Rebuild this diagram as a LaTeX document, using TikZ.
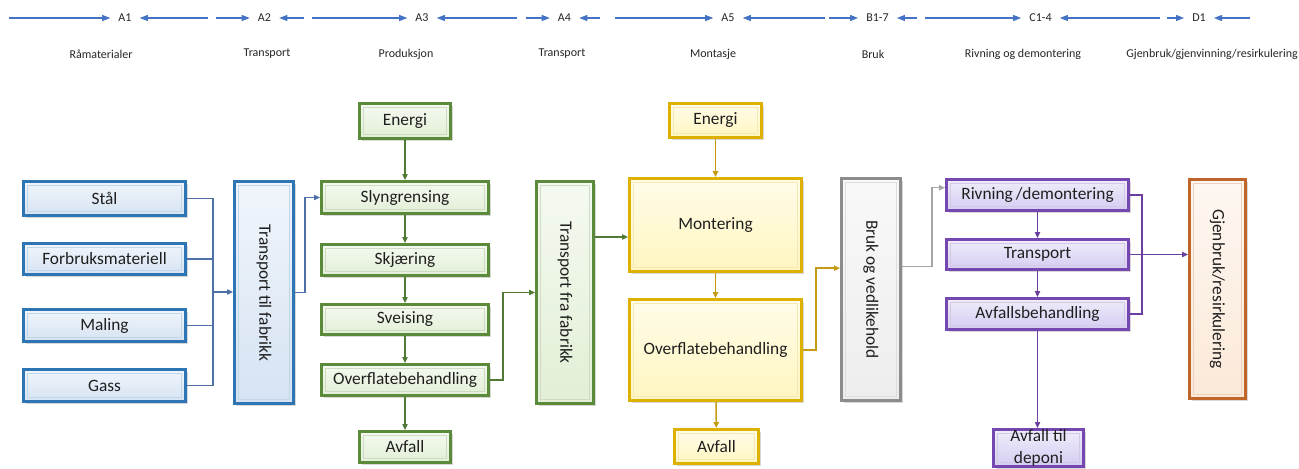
\documentclass[tikz,border=0pt]{standalone}
\usepackage{fontspec}
\setmainfont{Carlito}
\usepackage{graphicx}
\usetikzlibrary{arrows.meta,shadows}
\definecolor{blueB}{HTML}{2E75B6}\definecolor{blueF}{HTML}{D6E3F3}
\definecolor{greenB}{HTML}{5A8A3A}\definecolor{greenF}{HTML}{E2EFD6}
\definecolor{yelB}{HTML}{DDB100}\definecolor{yelF}{HTML}{FFF6C0}
\definecolor{grayB}{HTML}{8C8C8C}\definecolor{grayF}{HTML}{EDEDED}
\definecolor{purB}{HTML}{7448B0}\definecolor{purF}{HTML}{D4CCF2}
\definecolor{oraB}{HTML}{C0652A}\definecolor{oraF}{HTML}{FBE9D8}
\definecolor{blueL}{HTML}{4F6FA8}\definecolor{greenL}{HTML}{4E7A35}
\definecolor{yelL}{HTML}{C49B12}\definecolor{grayL}{HTML}{A6A6A6}
\definecolor{purL}{HTML}{6B3FA0}\definecolor{hdL}{HTML}{4472C4}
\tikzset{
  bx/.style 2 args={draw=#1, line width=2.2pt, inner sep=0pt, outer sep=1.1pt,
    top color=#2!35!white, bottom color=#2, text=black!88,
    font=\fontsize{13}{16}\selectfont, align=center,
    drop shadow={opacity=0.3,shadow xshift=2pt,shadow yshift=-2pt},
    path picture={\draw[#1!30!white, line width=1.1pt]
      ([xshift=3pt,yshift=-3pt]path picture bounding box.north west) rectangle
      ([xshift=-3pt,yshift=3pt]path picture bounding box.south east);}},
  con/.style={line width=0.9pt, draw=#1},
  arr/.style={con=#1, -{Triangle[length=4.5pt,width=4pt]}},
  hd/.style={inner xsep=6pt, inner ysep=1pt, font=\fontsize{9}{11}\selectfont, text=black!85},
  hl/.style={inner sep=0pt, font=\fontsize{9}{11}\selectfont, text=black!85},
  harr/.style={line width=0.8pt, draw=hdL, -{Triangle[length=6pt,width=4.5pt]}}
}
\newcommand\mybox[7]{\node[#6, minimum width={(#4-#2)*0.75pt-2.2pt}, minimum height={(#5-#3)*0.75pt-2.2pt}] (#1) at ({(#2+#4)/2},{(#3+#5)/2}) {#7};}
\begin{document}
\begin{tikzpicture}[x=0.75pt,y=-0.75pt]
\fill[white] (0,0) rectangle (1299,468);
\useasboundingbox (0,0) rectangle (1299,468);
% header
\node[hd] (A1) at (125,18) {A1};
\node[hd] (A2) at (264.5,18) {A2};
\node[hd] (A3) at (422,18) {A3};
\node[hd] (A4) at (564.5,18) {A4};
\node[hd] (A5) at (728,18) {A5};
\node[hd] (B17) at (877.5,18) {B1-7};
\node[hd] (C14) at (1040.5,18) {C1-4};
\node[hd] (D1) at (1199,18) {D1};
\coordinate (h1a) at (9,18);   \coordinate (h1b) at (208,18);
\coordinate (h2a) at (216,18); \coordinate (h2b) at (304,18);
\coordinate (h3a) at (312,18); \coordinate (h3b) at (517,18);
\coordinate (h4a) at (526,18); \coordinate (h4b) at (600,18);
\coordinate (h5a) at (615,18); \coordinate (h5b) at (825,18);
\coordinate (h6a) at (829,18); \coordinate (h6b) at (917,18);
\coordinate (h7a) at (925,18); \coordinate (h7b) at (1160,18);
\coordinate (h8a) at (1167,18); \coordinate (h8b) at (1250,18);
\draw[harr] (h1a) -- (A1); \draw[harr] (h1b) -- (A1);
\draw[harr] (h2a) -- (A2); \draw[harr] (h2b) -- (A2);
\draw[harr] (h3a) -- (A3); \draw[harr] (h3b) -- (A3);
\draw[harr] (h4a) -- (A4); \draw[harr] (h4b) -- (A4);
\draw[harr] (h5a) -- (A5); \draw[harr] (h5b) -- (A5);
\draw[harr] (h6a) -- (B17); \draw[harr] (h6b) -- (B17);
\draw[harr] (h7a) -- (C14); \draw[harr] (h7b) -- (C14);
\draw[harr] (h8a) -- (D1); \draw[harr] (h8b) -- (D1);
\node[hl] (L1) at (101,54) {Råmaterialer};
\node[hl] (L2) at (267,54) {Transport};
\node[hl] (L3) at (406,54) {Produksjon};
\node[hl] (L4) at (562,54) {Transport};
\node[hl] (L5) at (713,54) {Montasje};
\node[hl] (L6) at (873,54) {Bruk};
\node[hl] (L7) at (1023,54) {Rivning og demontering};
\node[hl] (L8) at (1212,54) {Gjenbruk/gjenvinning/resirkulering};
% blue
\mybox{stal}{22}{180}{187}{217}{bx={blueB}{blueF}}{Stål}
\mybox{forbruk}{22}{242}{187}{276}{bx={blueB}{blueF}}{Forbruksmateriell}
\mybox{maling}{22}{308}{187}{343}{bx={blueB}{blueF}}{Maling}
\mybox{gass}{22}{368}{187}{403}{bx={blueB}{blueF}}{Gass}
\mybox{ttf}{233}{180}{295}{405}{bx={blueB}{blueF}}{\rotatebox{-90}{Transport til fabrikk}}
% green
\mybox{energi1}{358}{102}{452}{140}{bx={greenB}{greenF}}{Energi}
\mybox{slyng}{320}{180}{490}{215}{bx={greenB}{greenF}}{Slyngrensing}
\mybox{skj}{320}{243}{490}{277}{bx={greenB}{greenF}}{Skjæring}
\mybox{sveis}{320}{303}{490}{336}{bx={greenB}{greenF}}{Sveising}
\mybox{overfl1}{320}{363}{490}{397}{bx={greenB}{greenF}}{Overflatebehandling}
\mybox{avfall1}{358}{430}{452}{464}{bx={greenB}{greenF}}{Avfall}
\mybox{tff}{535}{180}{595}{405}{bx={greenB}{greenF}}{\rotatebox{-90}{Transport fra fabrikk}}
% yellow
\mybox{energi2}{668}{102}{763}{139}{bx={yelB}{yelF}}{Energi}
\mybox{mont}{628}{177}{803}{273}{bx={yelB}{yelF}}{Montering}
\mybox{overfl2}{628}{298}{803}{402}{bx={yelB}{yelF}}{Overflatebehandling}
\mybox{avfall2}{673}{428}{760}{465}{bx={yelB}{yelF}}{Avfall}
% gray
\mybox{bruk}{840}{177}{902}{402}{bx={grayB}{grayF}}{\rotatebox{-90}{Bruk og vedlikehold}}
% purple
\mybox{riv}{945}{178}{1130}{212}{bx={purB}{purF}}{Rivning\,/demontering}
\mybox{trans}{945}{238}{1130}{271}{bx={purB}{purF}}{Transport}
\mybox{avfb}{945}{297}{1130}{331}{bx={purB}{purF}}{Avfallsbehandling}
\mybox{deponi}{992}{428}{1085}{468}{bx={purB}{purF}}{Avfall til\\deponi}
% orange
\mybox{gjen}{1188}{178}{1247}{400}{bx={oraB}{oraF}}{\rotatebox{-90}{Gjenbruk/resirkulering}}
% blue connectors
\coordinate (trunk) at (213,292);
\draw[con=blueL] (stal.east) -| (trunk);
\draw[con=blueL] (gass.east) -| (trunk);
\draw[con=blueL] (forbruk.east) -- (forbruk.east -| trunk);
\draw[con=blueL] (maling.east) -- (maling.east -| trunk);
\draw[arr=blueL] (trunk) -- (trunk -| ttf.west);
\draw[arr=blueL] (ttf.east) -- ++(10,0) |- (slyng.west);
% green connectors
\draw[arr=greenL] (energi1) -- (slyng);
\draw[arr=greenL] (slyng) -- (skj);
\draw[arr=greenL] (skj) -- (sveis);
\draw[arr=greenL] (sveis) -- (overfl1);
\draw[arr=greenL] (overfl1) -- (avfall1);
\draw[arr=greenL] (overfl1.east) -- ++(13,0) |- (tff.west);
\coordinate (montin) at ([yshift=-9pt]mont.west);
\draw[arr=greenL] (tff.east |- montin) -- (montin);
% yellow connectors
\draw[arr=yelL, line width=1.1pt] (energi2) -- (mont);
\draw[arr=yelL, line width=1.1pt] (mont) -- (overfl2);
\draw[arr=yelL, line width=1.1pt] (overfl2) -- (avfall2);
\coordinate (brukin) at ([yshift=16pt]bruk.west);
\draw[arr=yelL, line width=1.1pt] (overfl2.east) -- ++(13,0) |- (brukin);
% gray connector
\coordinate (brukout) at ([yshift=17pt]bruk.east);
\coordinate (rivin) at ([yshift=5.5pt]riv.west);
\draw[arr=grayL] (brukout) -- ++(30,0) |- (rivin);
% purple connectors
\draw[arr=purL] (riv) -- (trans);
\draw[arr=purL] (trans) -- (avfb);
\draw[arr=purL] (avfb) -- (avfb |- deponi.north);
\draw[con=purL] (riv.east) -- ++(12,0) |- (avfb.east);
\draw[arr=purL] (trans.east) -- (trans.east -| gjen.west);
\end{tikzpicture}
\end{document}
